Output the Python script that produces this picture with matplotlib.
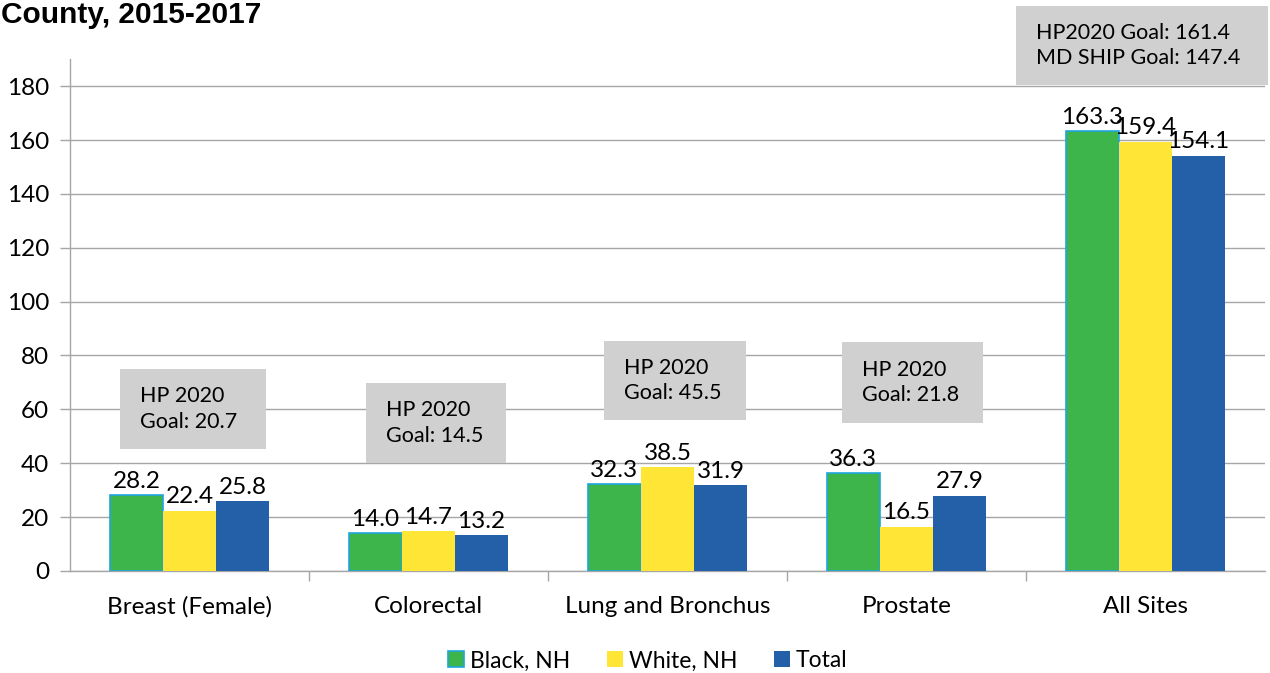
import matplotlib.pyplot as plt
from matplotlib.patches import Rectangle
import numpy as np

categories = ['Breast (Female)', 'Colorectal', 'Lung and Bronchus', 'Prostate', 'All Sites']
series_names = ['Black, NH', 'White, NH', 'Total']
black_nh = [28.2, 14.0, 32.3, 36.3, 163.3]
white_nh = [22.4, 14.7, 38.5, 16.5, 159.4]
total = [25.8, 13.2, 31.9, 27.9, 154.1]
goal_texts = ['HP 2020\nGoal: 20.7', 'HP 2020\nGoal: 14.5', 'HP 2020\nGoal: 45.5',
              'HP 2020\nGoal: 21.8', 'HP2020 Goal: 161.4\nMD SHIP Goal: 147.4']
title = 'County, 2015-2017'

colors = ['#3db54a', '#ffe535', '#2360a8']
edges = ['#1fa5e0', '#ffe535', '#2360a8']
grid_c = '#a6a6a6'
box_c = '#d0d0d0'
font = ['Lato', 'DejaVu Sans']

# goal box layout (x0, x1, y0, y1) in data units
boxes = [(-0.291, 0.320, 45.3, 75.0),
         (0.738, 1.324, 40.1, 69.8),
         (1.734, 2.328, 56.0, 85.4),
         (2.730, 3.320, 54.9, 85.0),
         (3.458, 4.513, 180.4, 209.7)]

fig = plt.figure(figsize=(12.7, 6.73), dpi=100)
ax = fig.add_axes([0.0551, 0.1516, 0.9409, 0.7604])

x = np.arange(len(categories))
w = 0.222
for i, vals in enumerate([black_nh, white_nh, total]):
    bars = ax.bar(x + (i - 1) * w, vals, w, color=colors[i], edgecolor=edges[i],
                  linewidth=1.2 if i == 0 else 0, label=series_names[i], zorder=3)
    for b, v in zip(bars, vals):
        ax.annotate(f'{v:.1f}', (b.get_x() + b.get_width() / 2, v), xytext=(0, 2.5),
                    textcoords='offset points', ha='center', va='bottom',
                    fontsize=17.5, family=font, color='black', zorder=5)

for (x0, x1, y0, y1), txt in zip(boxes, goal_texts):
    ax.add_patch(Rectangle((x0, y0), x1 - x0, y1 - y0, facecolor=box_c,
                           edgecolor='none', clip_on=False, zorder=4))
    ax.text(x0 + 0.085, (y0 + y1) / 2, txt, ha='left', va='center', fontsize=15.5,
            family=font, linespacing=1.35, zorder=6, clip_on=False)

ax.set_xlim(-0.5, len(categories) - 0.5)
ax.set_ylim(0, 190)
ax.set_yticks(np.arange(0, 181, 20))
ax.yaxis.grid(True, color=grid_c, linewidth=1)
ax.set_axisbelow(True)
ax.set_xticks(x)
ax.set_xticklabels(categories, fontsize=17.5, family=font)
ax.set_xticks(np.arange(0.5, len(categories) - 0.5, 1), minor=True)
ax.tick_params(axis='x', which='major', length=0, pad=18)
ax.tick_params(axis='x', which='minor', length=7, color=grid_c, width=1)
ax.tick_params(axis='y', length=7, color=grid_c, width=1, pad=8)
for lab in ax.get_yticklabels():
    lab.set_fontsize(17.5)
    lab.set_family(font)
for s in ['top', 'right']:
    ax.spines[s].set_visible(False)
for s in ['left', 'bottom']:
    ax.spines[s].set_color(grid_c)
    ax.spines[s].set_linewidth(1)

leg = fig.legend(loc='center', bbox_to_anchor=(0.51, 0.018), ncol=3, frameon=False,
                 prop={'family': font, 'size': 16.5}, handlelength=0.7, handleheight=0.7,
                 handletextpad=0.25, columnspacing=1.6)

fig.text(0.001, 0.978, title, ha='left', va='center', fontsize=21.5,
         fontweight='bold', family=['Liberation Sans', 'DejaVu Sans'])

fig.savefig('out.png', dpi=100)
